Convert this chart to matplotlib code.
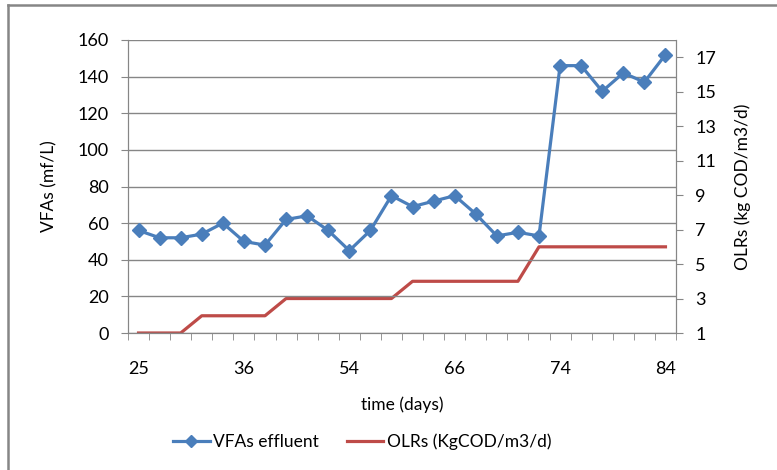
import matplotlib.pyplot as plt
import numpy as np
from matplotlib.lines import Line2D
from matplotlib.ticker import FixedLocator

plt.rcParams.update({'font.family': ['Lato', 'DejaVu Sans'], 'font.size': 12.5})

# 26 sampling points, only every 5th day is labelled on the axis
vfa = [56, 52, 52, 54, 60, 50, 48, 62, 64, 56, 45, 56, 75,
       69, 72, 75, 65, 53, 55, 53, 146, 146, 132, 142, 137, 152]
olr = [1, 1, 1, 2, 2, 2, 2, 3, 3, 3, 3, 3, 3,
       4, 4, 4, 4, 4, 4, 6, 6, 6, 6, 6, 6, 6]
day_labels = ['25', '36', '54', '66', '74', '84']
label_every = 5

blue = '#4A7EBB'
red = '#BE4B48'
grey = '#868686'

x = np.arange(len(vfa))

fig = plt.figure(figsize=(7.77, 4.70), dpi=100)
ax = fig.add_axes([128 / 777, 137 / 470, 548 / 777, 293 / 470])
ax2 = ax.twinx()

ax.plot(x, vfa, color=blue, lw=2.3, marker='D', ms=7, mec=blue, zorder=3)
ax2.plot(x, olr, color=red, lw=2.3, zorder=2)
ax.set_zorder(ax2.get_zorder() + 1)
ax.patch.set_visible(False)

ax.set_xlim(-0.5, len(vfa) - 0.5)
ax.set_ylim(0, 160)
ax.set_yticks(np.arange(0, 161, 20))
ax2.set_ylim(1, 18)
ax2.set_yticks(np.arange(1, 18, 2))

ax.set_xticks(x[::label_every])
ax.set_xticklabels(day_labels)
ax.xaxis.set_minor_locator(FixedLocator(np.arange(-0.5, len(vfa), 1)))
ax.tick_params(axis='x', which='major', length=0, pad=20, labelsize=13)
ax.tick_params(axis='x', which='minor', length=5, color=grey, direction='out')
ax.tick_params(axis='y', length=5, color=grey, pad=9, labelsize=13)
ax2.tick_params(axis='y', length=5, color=grey, pad=9, labelsize=13)

ax.grid(axis='y', color=grey, lw=1)
for a in (ax, ax2):
    a.spines['top'].set_visible(False)
    for s in ('left', 'right', 'bottom'):
        a.spines[s].set_color(grey)

ax.set_ylabel('VFAs (mf/L)', labelpad=14)
ax2.set_ylabel('OLRs (kg COD/m3/d)', labelpad=13)
ax.set_xlabel('time (days)', labelpad=14)

handles = [Line2D([], [], color=blue, lw=2.3, marker='D', ms=6),
           Line2D([], [], color=red, lw=2.3)]
fig.legend(handles, ['VFAs effluent', 'OLRs (KgCOD/m3/d)'], loc='center',
           bbox_to_anchor=(0.466, 0.06), ncol=2, frameon=False,
           handlelength=2.1, columnspacing=1.6, handletextpad=0.2)

# chart border (only top and left visible in the crop)
fig.add_artist(Line2D([8 / 777, 8 / 777], [0, 1 - 5 / 470], color=grey, lw=1.8,
                      transform=fig.transFigure))
fig.add_artist(Line2D([8 / 777, 1], [1 - 5 / 470, 1 - 5 / 470], color=grey, lw=1.8,
                      transform=fig.transFigure))

plt.savefig('out.png', dpi=100)
